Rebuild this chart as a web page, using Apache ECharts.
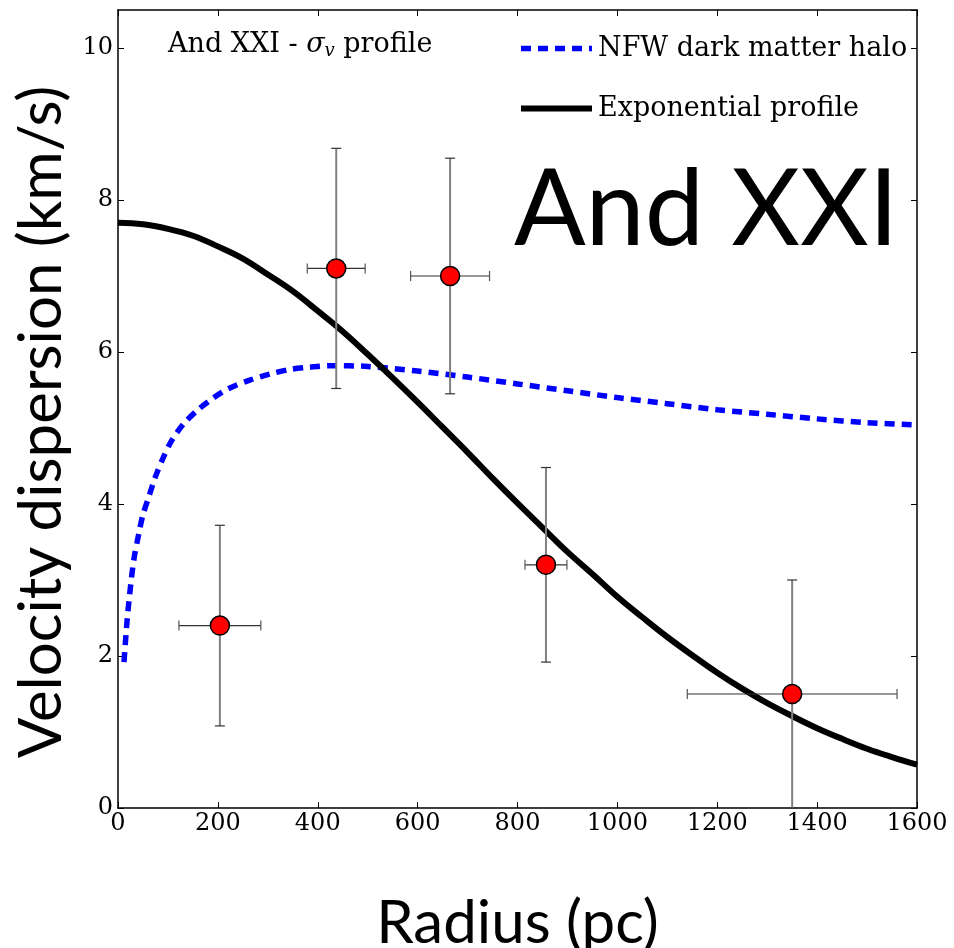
<!DOCTYPE html>
<html>
<head>
<meta charset="utf-8">
<script src="https://cdn.jsdelivr.net/npm/echarts@6/dist/echarts.min.js"></script>
<style>html,body{margin:0;padding:0;background:#fff}#c{width:954px;height:948px}</style>
</head>
<body>
<div id="c"></div>
<script>
// Data points with error bars
const radius = [204, 437, 665, 857, 1350];
const sigma = [2.4, 7.1, 7.0, 3.2, 1.5];
const radiusErr = [82, 58, 79, 42, 210];
const sigmaErr = [1.32, 1.58, 1.55, 1.28, 1.5];

// Exponential profile
const expRadius = [0, 50, 100, 150, 200, 250, 300, 350, 400, 450, 500, 550, 600, 650, 700, 750, 800, 850, 900, 950, 1000, 1050, 1100, 1150, 1200, 1250, 1300, 1350, 1400, 1450, 1500, 1550, 1600];
const expSigma = [7.70, 7.68, 7.62, 7.53, 7.39, 7.23, 7.02, 6.80, 6.54, 6.27, 5.97, 5.66, 5.34, 5.01, 4.68, 4.34, 4.01, 3.69, 3.37, 3.08, 2.78, 2.51, 2.25, 2.01, 1.78, 1.57, 1.38, 1.21, 1.05, 0.91, 0.78, 0.67, 0.57];

// NFW dark matter halo
const nfwRadius = [12, 18, 24, 32, 42, 50, 62, 75, 92, 108, 132, 162, 192, 222, 264, 304, 344, 384, 424, 500, 600, 700, 800, 900, 1000, 1100, 1200, 1300, 1400, 1500, 1600];
const nfwSigma = [1.92, 2.45, 2.85, 3.28, 3.62, 3.86, 4.10, 4.36, 4.63, 4.84, 5.06, 5.25, 5.40, 5.52, 5.63, 5.71, 5.77, 5.80, 5.82, 5.81, 5.75, 5.67, 5.58, 5.49, 5.40, 5.32, 5.24, 5.18, 5.12, 5.07, 5.04];

const xTicks = [0, 200, 400, 600, 800, 1000, 1200, 1400, 1600];
const yTicks = [0, 2, 4, 6, 8, 10];

const chart = echarts.init(document.getElementById('c'));
const serif = 'DejaVu Serif';
const sans = 'Lato';

const pts = radius.map((r, i) => [r, sigma[i], radiusErr[i], sigmaErr[i]]);

const axisLine = {show: true, onZero: false, lineStyle: {color: '#000', width: 1.5}};
const tick = {show: true, inside: true, length: 6, lineStyle: {color: '#000', width: 1}};

const nfwStyle = {color: '#0000ff', width: 5.5, type: [10, 7]};
const expStyle = {color: '#000', width: 6};

chart.setOption({
  animation: false,
  backgroundColor: '#fff',
  grid: {left: 118, right: 37, top: 10, bottom: 140, containLabel: false, outerBoundsMode: 'none'},
  legend: {
    orient: 'vertical', left: 513, top: 30, itemWidth: 71, itemHeight: 14, itemGap: 33,
    textStyle: {fontFamily: serif, fontSize: 27, color: '#000', padding: [0, 0, 0, 1]},
    data: [
      {name: 'NFW dark matter halo', lineStyle: nfwStyle, itemStyle: {opacity: 0}},
      {name: 'Exponential profile', lineStyle: expStyle, itemStyle: {opacity: 0}}
    ]
  },
  xAxis: [{
    type: 'value', min: 0, max: 1600, interval: 200, position: 'bottom',
    name: 'Radius (pc)', nameLocation: 'middle', nameGap: 86,
    nameTextStyle: {fontFamily: sans, fontSize: 60, color: '#000'},
    axisLine, axisTick: tick, splitLine: {show: false},
    axisLabel: {fontFamily: serif, fontSize: 24, color: '#000', margin: 4,
      formatter: v => xTicks.includes(v) ? String(v) : ''}
  }, {
    type: 'value', min: 0, max: 1600, interval: 200, position: 'top',
    axisLine, axisTick: tick, axisLabel: {show: false}, splitLine: {show: false}
  }],
  yAxis: [{
    type: 'value', min: 0, max: 10.5, interval: 2, position: 'left',
    name: 'Velocity dispersion (km/s)', nameLocation: 'middle', nameGap: 36,
    nameTextStyle: {fontFamily: sans, fontSize: 60, color: '#000', padding: [0, 26, 0, 0]},
    axisLine, axisTick: tick, splitLine: {show: false},
    axisLabel: {fontFamily: serif, fontSize: 24, color: '#000', margin: 5, showMaxLabel: false,
      formatter: v => yTicks.includes(v) ? String(v) : ''}
  }, {
    type: 'value', min: 0, max: 10.5, interval: 2, position: 'right',
    axisLine, axisTick: tick, axisLabel: {show: false}, splitLine: {show: false}
  }],
  graphic: [{
    type: 'text', left: 514, top: 158, z: 10,
    style: {text: 'And XXI', fontFamily: sans, fontWeight: 'normal', fontSize: 106, fill: '#000'}
  }, {
    type: 'text', left: 168, top: 31, z: 10,
    style: {
      text: 'And XXI - {s|σ}{v|v} profile',
      fontFamily: serif, fontSize: 27, fill: '#000',
      rich: {
        s: {fontFamily: serif, fontStyle: 'italic', fontSize: 27},
        v: {fontFamily: serif, fontStyle: 'italic', fontSize: 18, padding: [14, 0, 0, 0]}
      }
    }
  }],
  series: [{
    name: 'NFW dark matter halo', type: 'line', symbol: 'none', smooth: 0.3,
    data: nfwRadius.map((r, i) => [r, nfwSigma[i]]),
    lineStyle: nfwStyle, itemStyle: {color: '#0000ff'}, z: 3
  }, {
    name: 'Exponential profile', type: 'line', symbol: 'none', smooth: 0.4,
    data: expRadius.map((r, i) => [r, expSigma[i]]),
    lineStyle: expStyle, itemStyle: {color: '#000'}, z: 3
  }, {
    name: 'errors', type: 'custom', z: 4, encode: {x: 0, y: 1},
    data: pts,
    renderItem: (params, api) => {
      const x = api.value(0), y = api.value(1), ex = api.value(2), ey = api.value(3);
      const l = api.coord([x - ex, y]), r = api.coord([x + ex, y]);
      const t = api.coord([x, y + ey]), b = api.coord([x, y - ey]);
      const grey = {stroke: '#808080', lineWidth: 2};
      const dark = {stroke: '#333', lineWidth: 1.2};
      const cap = 5;
      return {type: 'group', children: [
        {type: 'line', shape: {x1: t[0], y1: t[1], x2: b[0], y2: b[1]}, style: grey},
        {type: 'line', shape: {x1: t[0] - cap, y1: t[1], x2: t[0] + cap, y2: t[1]}, style: dark},
        {type: 'line', shape: {x1: b[0] - cap, y1: b[1], x2: b[0] + cap, y2: b[1]}, style: dark},
        {type: 'line', shape: {x1: l[0], y1: l[1], x2: r[0], y2: r[1]}, style: dark},
        {type: 'line', shape: {x1: l[0], y1: l[1] - cap, x2: l[0], y2: l[1] + cap}, style: {stroke: '#555', lineWidth: 1.2}},
        {type: 'line', shape: {x1: r[0], y1: r[1] - cap, x2: r[0], y2: r[1] + cap}, style: {stroke: '#555', lineWidth: 1.2}}
      ]};
    }
  }, {
    name: 'data', type: 'scatter', z: 5, symbol: 'circle', symbolSize: 19,
    data: radius.map((r, i) => [r, sigma[i]]),
    itemStyle: {color: '#ff0000', borderColor: '#000', borderWidth: 1.5, opacity: 1}
  }]
});
</script>
</body>
</html>
